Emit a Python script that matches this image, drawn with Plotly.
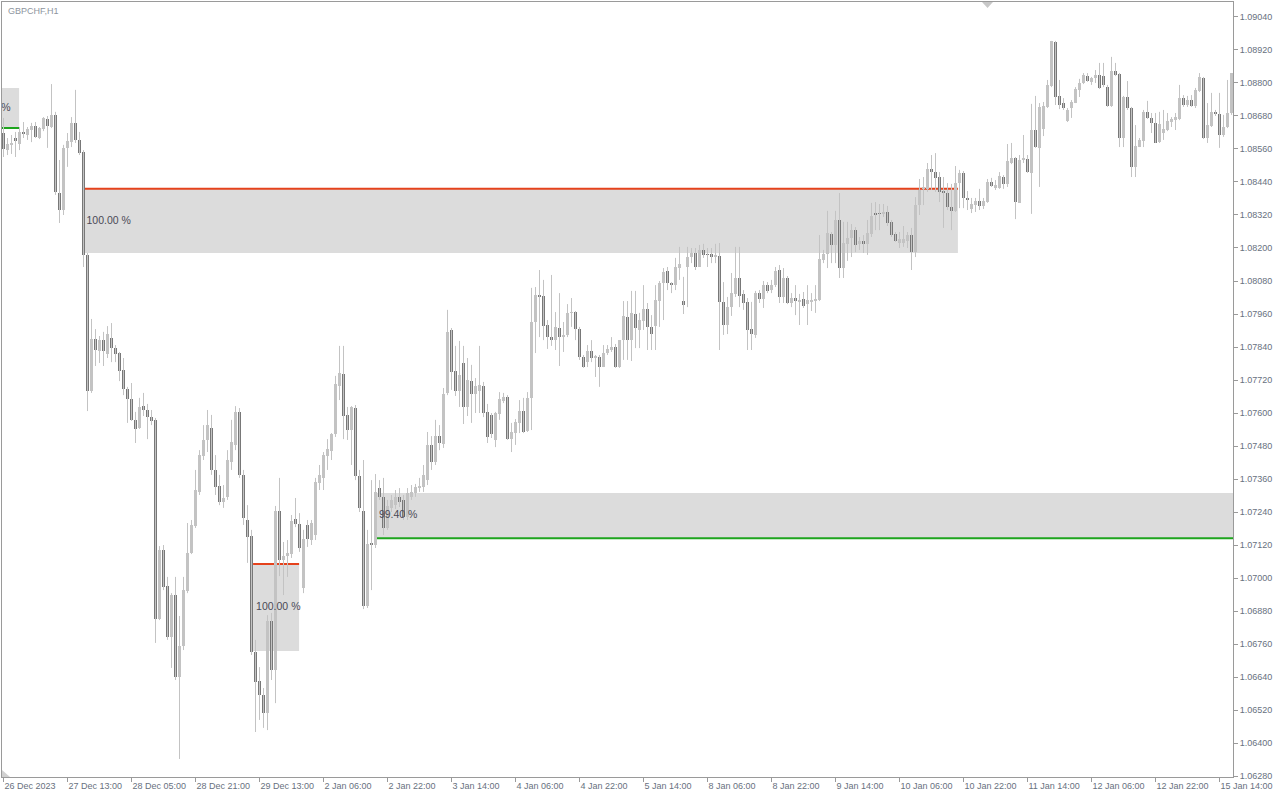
import plotly.graph_objects as go

chart_title = "GBPCHF,H1"

opens = [
 1.08618,1.08556,1.08575,1.08600,1.08578,1.08622,1.08611,1.08629,1.08644,1.08600,
 1.08633,1.08669,1.08640,1.08684,1.08400,1.08338,1.08564,1.08585,1.08655,1.08593,
 1.08549,1.08175,1.07680,1.07869,1.07825,1.07865,1.07815,1.07873,1.07836,1.07818,
 1.07756,1.07687,1.07651,1.07575,1.07545,1.07625,1.07611,1.07585,1.07575,1.06851,
 1.07102,1.06971,1.06785,1.06938,1.06640,1.06753,1.06953,1.07091,1.07189,1.07313,
 1.07444,1.07502,1.07545,1.07393,1.07335,1.07276,1.07295,1.07422,1.07484,1.07604,
 1.07375,1.07211,1.07153,1.06731,1.06625,1.06575,1.06509,1.06844,1.06665,1.07244,
 1.07065,1.07080,1.07087,1.07215,1.07196,1.06964,1.07193,1.07138,1.07156,1.07345,
 1.07364,1.07444,1.07462,1.07524,1.07698,1.07742,1.07593,1.07538,1.07618,1.07371,
 1.07244,1.06898,1.07124,1.07120,1.07327,1.07295,1.07182,1.07255,1.07265,1.07295,
 1.07284,1.07222,1.07295,1.07309,1.07327,1.07331,1.07356,1.07484,1.07422,1.07516,
 1.07487,1.07673,1.07902,1.07753,1.07680,1.07782,1.07622,1.07716,1.07669,1.07680,
 1.07698,1.07604,1.07593,1.07502,1.07596,1.07644,1.07658,1.07505,1.07527,1.07564,
 1.07607,1.07535,1.07655,1.07931,1.08029,1.08025,1.07920,1.07876,1.07865,1.07909,
 1.07876,1.07884,1.07964,1.07967,1.07905,1.07804,1.07785,1.07825,1.07800,1.07804,
 1.07767,1.07818,1.07829,1.07840,1.07767,1.07865,1.07949,1.07865,1.07960,1.07902,
 1.07935,1.07978,1.07913,1.07916,1.08007,1.08073,1.08116,1.08073,1.08065,1.08127,
 1.08007,1.08131,1.08167,1.08182,1.08131,1.08193,1.08178,1.08178,1.08167,1.08171,
 1.08004,1.07920,1.07985,1.08033,1.08091,1.08033,1.08004,1.07905,1.07884,1.08036,
 1.08015,1.08065,1.08047,1.08065,1.08120,1.08022,1.08091,1.08000,1.08018,1.08004,
 1.08015,1.07996,1.08004,1.08007,1.08011,1.08156,1.08178,1.08251,1.08211,1.08302,
 1.08127,1.08215,1.08236,1.08265,1.08215,1.08225,1.08215,1.08251,1.08324,1.08327,
 1.08324,1.08331,1.08295,1.08251,1.08218,1.08218,1.08225,1.08247,1.08185,1.08356,
 1.08415,1.08415,1.08487,1.08476,1.08458,1.08407,1.08400,1.08349,1.08335,1.08436,
 1.08473,1.08382,1.08342,1.08356,1.08371,1.08353,1.08367,1.08440,1.08418,1.08418,
 1.08458,1.08433,1.08509,1.08527,1.08364,1.08520,1.08524,1.08473,1.08629,1.08564,
 1.08633,1.08713,1.08789,1.08949,1.08753,1.08727,1.08662,1.08709,1.08727,1.08775,
 1.08800,1.08825,1.08804,1.08818,1.08829,1.08825,1.08785,1.08716,1.08844,1.08833,
 1.08600,1.08749,1.08709,1.08495,1.08567,1.08589,1.08695,1.08673,1.08655,1.08585,
 1.08618,1.08629,1.08658,1.08665,1.08669,1.08745,1.08720,1.08738,1.08716,1.08771,
 1.08818,1.08600,1.08644,1.08695,1.08687,1.08611,1.08640,1.08691]

highs = [
 1.08673,1.08600,1.08611,1.08622,1.08640,1.08658,1.08640,1.08655,1.08658,1.08640,
 1.08676,1.08680,1.08796,1.08695,1.08520,1.08575,1.08618,1.08676,1.08775,1.08622,
 1.08556,1.08182,1.07942,1.07905,1.07880,1.07895,1.07916,1.07927,1.07847,1.07822,
 1.07800,1.07695,1.07709,1.07604,1.07655,1.07673,1.07633,1.07611,1.07582,1.07116,
 1.07120,1.07004,1.06945,1.07004,1.06862,1.07004,1.07200,1.07211,1.07393,1.07465,
 1.07556,1.07611,1.07593,1.07447,1.07375,1.07338,1.07465,1.07575,1.07625,1.07618,
 1.07393,1.07265,1.07175,1.06775,1.06676,1.06600,1.06865,1.06873,1.07262,1.07364,
 1.07131,1.07138,1.07229,1.07291,1.07236,1.07175,1.07211,1.07211,1.07364,1.07411,
 1.07458,1.07505,1.07527,1.07735,1.07844,1.07844,1.07622,1.07625,1.07629,1.07393,
 1.07429,1.07175,1.07356,1.07378,1.07356,1.07364,1.07284,1.07302,1.07320,1.07327,
 1.07302,1.07327,1.07338,1.07342,1.07364,1.07411,1.07531,1.07516,1.07575,1.07556,
 1.07691,1.07975,1.07909,1.07844,1.07862,1.07844,1.07800,1.07775,1.07727,1.07844,
 1.07713,1.07633,1.07600,1.07604,1.07676,1.07673,1.07665,1.07564,1.07578,1.07647,
 1.07655,1.07676,1.08055,1.08058,1.08120,1.08084,1.07938,1.08102,1.07967,1.08036,
 1.07931,1.07996,1.08018,1.07971,1.07913,1.07811,1.07847,1.07865,1.07811,1.07811,
 1.07847,1.07847,1.07876,1.07851,1.07865,1.08007,1.08007,1.08044,1.08044,1.07964,
 1.08065,1.08000,1.07956,1.08065,1.08080,1.08127,1.08131,1.08076,1.08164,1.08204,
 1.08095,1.08204,1.08200,1.08200,1.08211,1.08215,1.08200,1.08200,1.08215,1.08218,
 1.08076,1.08022,1.08109,1.08204,1.08204,1.08047,1.08018,1.08004,1.08044,1.08047,
 1.08080,1.08076,1.08084,1.08131,1.08138,1.08127,1.08098,1.08036,1.08065,1.08033,
 1.08040,1.08065,1.08036,1.08065,1.08247,1.08193,1.08335,1.08258,1.08335,1.08400,
 1.08295,1.08295,1.08287,1.08276,1.08240,1.08247,1.08302,1.08364,1.08367,1.08360,
 1.08360,1.08353,1.08302,1.08258,1.08258,1.08280,1.08258,1.08273,1.08385,1.08451,
 1.08458,1.08509,1.08538,1.08545,1.08476,1.08458,1.08436,1.08433,1.08498,1.08484,
 1.08480,1.08407,1.08382,1.08382,1.08415,1.08382,1.08451,1.08455,1.08447,1.08476,
 1.08465,1.08578,1.08582,1.08531,1.08538,1.08611,1.08538,1.08724,1.08753,1.08727,
 1.08731,1.08811,1.08953,1.08953,1.08811,1.08745,1.08709,1.08738,1.08785,1.08815,
 1.08836,1.08836,1.08822,1.08847,1.08873,1.08873,1.08793,1.08895,1.08873,1.08836,
 1.08753,1.08807,1.08713,1.08647,1.08600,1.08702,1.08735,1.08691,1.08691,1.08695,
 1.08702,1.08691,1.08676,1.08691,1.08793,1.08756,1.08753,1.08756,1.08782,1.08836,
 1.08822,1.08727,1.08764,1.08702,1.08764,1.08684,1.08811,1.08836]

lows = [
 1.08531,1.08538,1.08542,1.08531,1.08556,1.08600,1.08593,1.08585,1.08600,1.08596,
 1.08625,1.08564,1.08636,1.08393,1.08291,1.08320,1.08495,1.08567,1.08582,1.08538,
 1.08131,1.07607,1.07673,1.07771,1.07782,1.07771,1.07800,1.07785,1.07785,1.07716,
 1.07665,1.07564,1.07571,1.07491,1.07542,1.07589,1.07505,1.07556,1.06764,1.06847,
 1.06956,1.06775,1.06673,1.06629,1.06342,1.06738,1.06945,1.07087,1.07182,1.07302,
 1.07429,1.07458,1.07375,1.07302,1.07265,1.07255,1.07284,1.07393,1.07465,1.07364,
 1.07193,1.07055,1.06720,1.06440,1.06484,1.06455,1.06447,1.06629,1.06545,1.07007,
 1.06938,1.07004,1.07073,1.07185,1.07095,1.06945,1.07113,1.07120,1.07138,1.07320,
 1.07320,1.07393,1.07429,1.07513,1.07647,1.07505,1.07502,1.07411,1.07356,1.07240,
 1.06887,1.06891,1.06956,1.07109,1.07284,1.07156,1.07175,1.07240,1.07251,1.07258,
 1.07211,1.07211,1.07284,1.07295,1.07313,1.07313,1.07338,1.07393,1.07411,1.07465,
 1.07473,1.07665,1.07684,1.07662,1.07622,1.07560,1.07589,1.07564,1.07600,1.07600,
 1.07585,1.07491,1.07509,1.07476,1.07575,1.07636,1.07502,1.07458,1.07484,1.07527,
 1.07527,1.07531,1.07538,1.07818,1.07876,1.07865,1.07833,1.07844,1.07829,1.07771,
 1.07822,1.07876,1.07913,1.07865,1.07793,1.07764,1.07767,1.07785,1.07731,1.07695,
 1.07767,1.07811,1.07822,1.07764,1.07764,1.07793,1.07793,1.07789,1.07836,1.07836,
 1.07902,1.07829,1.07829,1.07829,1.07913,1.07938,1.08047,1.08036,1.08047,1.08084,
 1.07960,1.07985,1.08145,1.08120,1.08131,1.08164,1.08131,1.08145,1.08145,1.07829,
 1.07884,1.07887,1.07953,1.08022,1.07985,1.07975,1.07829,1.07829,1.07873,1.08000,
 1.07982,1.08036,1.08036,1.08058,1.08000,1.08000,1.07996,1.07985,1.07956,1.07920,
 1.07982,1.07920,1.07971,1.07964,1.08007,1.08145,1.08127,1.08145,1.08145,1.08091,
 1.08091,1.08153,1.08167,1.08185,1.08193,1.08182,1.08175,1.08240,1.08265,1.08265,
 1.08313,1.08280,1.08240,1.08222,1.08200,1.08204,1.08200,1.08120,1.08167,1.08320,
 1.08356,1.08404,1.08411,1.08404,1.08367,1.08273,1.08338,1.08265,1.08331,1.08345,
 1.08345,1.08338,1.08327,1.08331,1.08338,1.08342,1.08364,1.08422,1.08411,1.08415,
 1.08415,1.08422,1.08505,1.08305,1.08364,1.08509,1.08473,1.08324,1.08564,1.08422,
 1.08607,1.08709,1.08785,1.08720,1.08705,1.08702,1.08658,1.08673,1.08727,1.08749,
 1.08796,1.08804,1.08793,1.08800,1.08778,1.08785,1.08713,1.08713,1.08825,1.08567,
 1.08567,1.08702,1.08458,1.08458,1.08567,1.08567,1.08669,1.08618,1.08582,1.08582,
 1.08593,1.08625,1.08640,1.08629,1.08665,1.08713,1.08713,1.08713,1.08709,1.08767,
 1.08596,1.08582,1.08640,1.08680,1.08564,1.08604,1.08636,1.08684]

closes = [
 1.08560,1.08578,1.08582,1.08589,1.08622,1.08615,1.08633,1.08644,1.08604,1.08636,
 1.08673,1.08644,1.08684,1.08404,1.08338,1.08564,1.08589,1.08655,1.08593,1.08545,
 1.08175,1.07680,1.07869,1.07829,1.07865,1.07825,1.07887,1.07836,1.07815,1.07753,
 1.07687,1.07651,1.07575,1.07542,1.07622,1.07611,1.07585,1.07571,1.06851,1.07102,
 1.06967,1.06785,1.06938,1.06640,1.06753,1.06956,1.07091,1.07193,1.07320,1.07447,
 1.07502,1.07556,1.07393,1.07331,1.07276,1.07291,1.07429,1.07495,1.07604,1.07375,
 1.07218,1.07149,1.06731,1.06622,1.06575,1.06509,1.06844,1.06665,1.07244,1.07065,
 1.07080,1.07091,1.07207,1.07196,1.07109,1.07142,1.07142,1.07200,1.07349,1.07375,
 1.07447,1.07469,1.07524,1.07705,1.07745,1.07589,1.07538,1.07622,1.07371,1.07255,
 1.06898,1.07124,1.07120,1.07313,1.07295,1.07182,1.07262,1.07284,1.07295,1.07276,
 1.07222,1.07309,1.07313,1.07331,1.07335,1.07375,1.07484,1.07422,1.07516,1.07491,
 1.07669,1.07895,1.07749,1.07680,1.07738,1.07622,1.07720,1.07669,1.07698,1.07702,
 1.07600,1.07513,1.07524,1.07600,1.07651,1.07658,1.07505,1.07531,1.07567,1.07607,
 1.07531,1.07655,1.07931,1.08029,1.08022,1.07916,1.07876,1.07865,1.07913,1.07876,
 1.07884,1.07964,1.07967,1.07905,1.07804,1.07767,1.07825,1.07800,1.07804,1.07767,
 1.07818,1.07833,1.07840,1.07767,1.07865,1.07953,1.07865,1.07964,1.07909,1.07938,
 1.07978,1.07913,1.07887,1.08011,1.08073,1.08113,1.08073,1.08065,1.08131,1.08142,
 1.07993,1.08167,1.08182,1.08131,1.08193,1.08175,1.08175,1.08167,1.08175,1.08004,
 1.07920,1.07985,1.08036,1.08091,1.08025,1.08000,1.07902,1.07887,1.08036,1.08015,
 1.08065,1.08044,1.08065,1.08116,1.08022,1.08091,1.08000,1.08018,1.08007,1.08011,
 1.07989,1.08011,1.08011,1.08015,1.08160,1.08178,1.08255,1.08211,1.08302,1.08127,
 1.08218,1.08236,1.08265,1.08211,1.08225,1.08215,1.08255,1.08316,1.08320,1.08324,
 1.08331,1.08291,1.08247,1.08225,1.08233,1.08233,1.08247,1.08185,1.08356,1.08411,
 1.08422,1.08487,1.08476,1.08455,1.08404,1.08400,1.08349,1.08335,1.08436,1.08473,
 1.08382,1.08378,1.08360,1.08371,1.08353,1.08371,1.08440,1.08425,1.08429,1.08462,
 1.08433,1.08516,1.08527,1.08367,1.08520,1.08524,1.08476,1.08629,1.08567,1.08713,
 1.08716,1.08793,1.08953,1.08749,1.08720,1.08709,1.08702,1.08731,1.08778,1.08800,
 1.08829,1.08807,1.08818,1.08829,1.08782,1.08793,1.08716,1.08844,1.08829,1.08600,
 1.08749,1.08709,1.08495,1.08571,1.08593,1.08695,1.08673,1.08655,1.08582,1.08651,
 1.08633,1.08662,1.08669,1.08676,1.08745,1.08720,1.08738,1.08716,1.08775,1.08822,
 1.08600,1.08647,1.08695,1.08687,1.08611,1.08640,1.08691,1.08836]

tick_bar_index = [0, 16, 32, 48, 64, 80, 96, 112, 128, 144,
                  160, 176, 192, 208, 224, 240, 256, 272, 288, 304]
tick_labels = ["26 Dec 2023", "27 Dec 13:00", "28 Dec 05:00", "28 Dec 21:00",
               "29 Dec 13:00", "2 Jan 06:00", "2 Jan 22:00", "3 Jan 14:00",
               "4 Jan 06:00", "4 Jan 22:00", "5 Jan 14:00", "8 Jan 06:00",
               "8 Jan 22:00", "9 Jan 14:00", "10 Jan 06:00", "10 Jan 22:00",
               "11 Jan 14:00", "12 Jan 06:00", "12 Jan 22:00", "15 Jan 14:00"]
price_ticks = [1.06280, 1.06400, 1.06520, 1.06640, 1.06760, 1.06880, 1.07000,
               1.07120, 1.07240, 1.07360, 1.07480, 1.07600, 1.07720, 1.07840,
               1.07960, 1.08080, 1.08200, 1.08320, 1.08440, 1.08560, 1.08680,
               1.08800, 1.08920, 1.09040]

# supply / demand zones (bar index start/end, price bounds)
zone_start = [-10.1, 20.0, 62.4, 93.1]
zone_end = [3.9, 238.6, 73.9, 330.0]
zone_top = [1.08782, 1.08415, 1.07051, 1.07309]
zone_bottom = [1.08636, 1.08182, 1.06735, 1.07145]
zone_level = [1.08636, 1.08415, 1.07051, 1.07145]
zone_type = ["demand", "supply", "supply", "demand"]
zone_label = ["100.00 %", "100.00 %", "100.00 %", "99.40 %"]
LABEL_PAD = 0.75  # label starts just inside the zone's left edge (bar units)

BULL = "#c3c3c3"
BEAR = "#787878"
WICK = "#c3c3c3"
ZONE_FILL = "#dcdcdc"
LEVEL_COLOR = {"supply": "#e5421c", "demand": "#1ea51e"}
AXIS_COLOR = "#9a9a9a"
TEXT_COLOR = "#687180"
FONT = "Liberation Sans"

n = len(opens)
fig = go.Figure()

wx, wy = [], []
for i in range(n):
    wx += [i, i, None]
    wy += [lows[i], highs[i], None]
fig.add_trace(go.Scatter(x=wx, y=wy, mode="lines", line=dict(color=WICK, width=1),
                         hoverinfo="skip", showlegend=False))

MIN_BODY = 0.00003
for up in (True, False):
    idx = [i for i in range(n) if (closes[i] >= opens[i]) == up]
    fig.add_trace(go.Bar(
        x=idx,
        y=[max(abs(closes[i] - opens[i]), MIN_BODY) for i in idx],
        base=[min(opens[i], closes[i]) for i in idx],
        width=0.75,
        marker=dict(color=BULL if up else BEAR, line=dict(width=0)),
        hoverinfo="skip", showlegend=False))

shapes = []
for k in range(len(zone_start)):
    shapes.append(dict(type="rect", xref="x", yref="y", layer="below",
                       x0=zone_start[k], x1=zone_end[k], y0=zone_bottom[k], y1=zone_top[k],
                       fillcolor=ZONE_FILL, line=dict(width=0)))
    shapes.append(dict(type="line", xref="x", yref="y", layer="below",
                       x0=zone_start[k], x1=zone_end[k], y0=zone_level[k], y1=zone_level[k],
                       line=dict(color=LEVEL_COLOR[zone_type[k]], width=2)))

fig.add_trace(go.Scatter(
    x=[s + LABEL_PAD for s in zone_start],
    y=[(zone_top[k] + zone_bottom[k]) / 2 for k in range(len(zone_start))],
    text=zone_label, mode="text", textposition="middle right",
    textfont=dict(family=FONT, size=10.5, color="#4a4a56"),
    cliponaxis=True, hoverinfo="skip", showlegend=False))

# small chart-shift marker at top and corner marker
shapes.append(dict(type="path", xref="paper", yref="paper", layer="above",
                   path="M 0.7961 1.0 L 0.8050 1.0 L 0.8006 0.9923 Z",
                   fillcolor="#c8c8c8", line=dict(width=0)))
shapes.append(dict(type="path", xref="paper", yref="paper", layer="above",
                   path="M 0 0.009 L 0 0 L 0.0065 0 Z",
                   fillcolor="#d0d0d0", line=dict(width=0)))

fig.update_layout(
    width=1280, height=800,
    margin=dict(l=2, r=47, t=2, b=23),
    paper_bgcolor="white", plot_bgcolor="white",
    barmode="overlay", bargap=0, hovermode=False,
    shapes=shapes,
    font=dict(family=FONT, size=9, color=TEXT_COLOR),
    annotations=[dict(text=chart_title, xref="paper", yref="paper", x=0.003, y=1.0,
                      xanchor="left", yanchor="top", yshift=-2, showarrow=False,
                      font=dict(family=FONT, size=9, color="#8e959e"))],
    xaxis=dict(range=[-0.375, 307.375], tickmode="array", tickvals=tick_bar_index,
               ticktext=tick_labels, ticks="outside", ticklen=4, tickcolor=AXIS_COLOR,
               ticklabelposition="outside right", showgrid=False, zeroline=False,
               showline=True, linecolor=AXIS_COLOR, linewidth=1, mirror=True,
               tickfont=dict(family=FONT, size=9, color=TEXT_COLOR)),
    yaxis=dict(range=[1.062764, 1.090945], side="right", tickmode="array",
               tickvals=price_ticks, ticktext=["%.5f" % p for p in price_ticks],
               ticks="outside", ticklen=4, tickcolor=AXIS_COLOR, showgrid=False,
               zeroline=False, showline=True, linecolor=AXIS_COLOR, linewidth=1,
               mirror=True, tickfont=dict(family=FONT, size=9, color=TEXT_COLOR)),
)

fig.write_html("out.html", config={"displayModeBar": False},
               post_script="document.body.style.margin='0';document.body.style.overflow='hidden';")
